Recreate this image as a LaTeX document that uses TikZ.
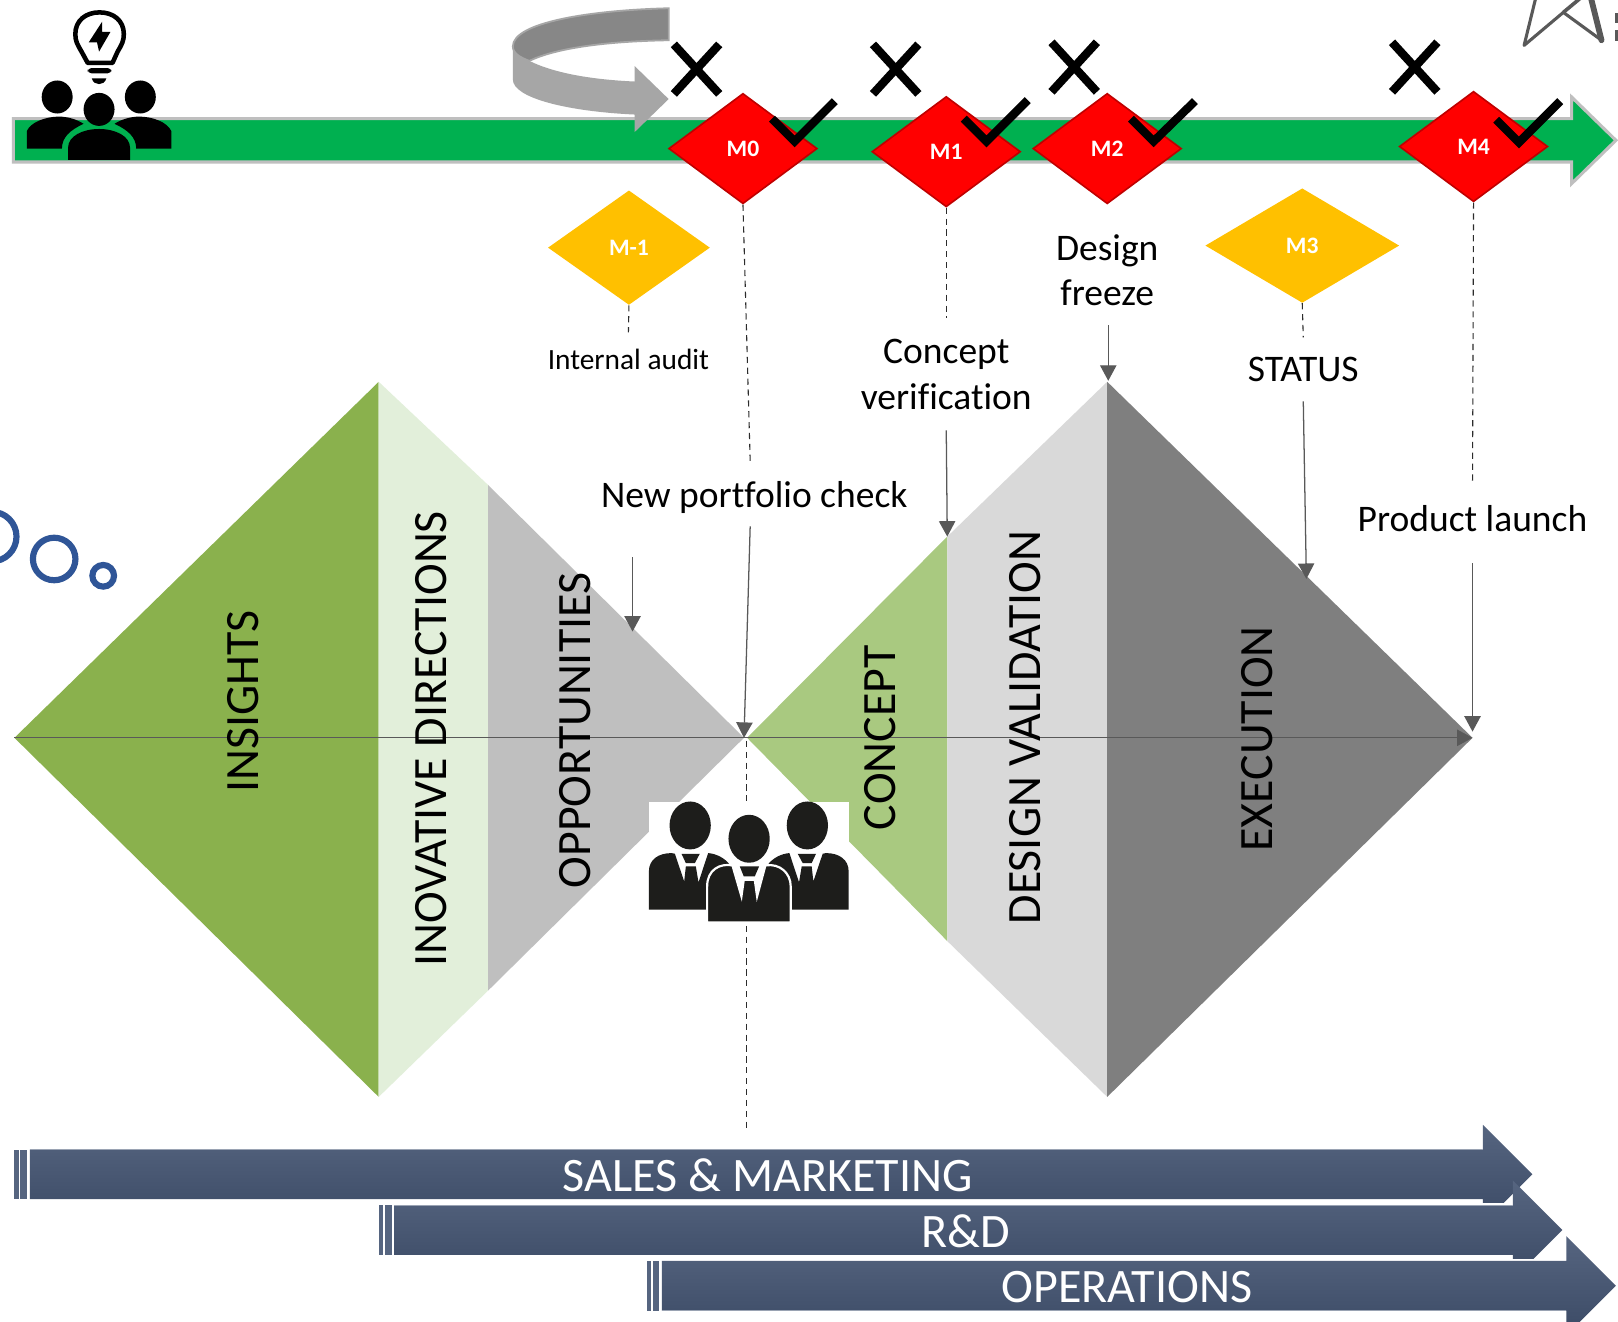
\documentclass[tikz,border=0pt]{standalone}
\usepackage{fontspec}
\setmainfont[Ligatures=NoCommon]{Carlito}
\usetikzlibrary{shapes.geometric,arrows.meta}
\definecolor{grn}{HTML}{00B050}
\definecolor{edgegray}{HTML}{BFBFBF}
\definecolor{redd}{HTML}{FF0000}
\definecolor{redb}{HTML}{C00000}
\definecolor{yel}{HTML}{FFC000}
\definecolor{ln}{HTML}{595959}
\definecolor{dgreen}{HTML}{8AB14D}
\definecolor{lgreen}{HTML}{E2EFDA}
\definecolor{mgreen}{HTML}{A9C980}
\definecolor{g1}{HTML}{BFBFBF}
\definecolor{g2}{HTML}{D9D9D9}
\definecolor{g3}{HTML}{7F7F7F}
\definecolor{curvedark}{HTML}{878787}
\definecolor{curvelight}{HTML}{A6A6A6}
\definecolor{blu}{HTML}{2F5597}
\definecolor{navt}{HTML}{566580}
\definecolor{navb}{HTML}{3B4A65}
\definecolor{ink}{HTML}{1D1D1B}
\newcommand{\fs}[1]{\fontsize{#1}{#1}\selectfont}
\newcommand{\backperson}{%
  \fill[ink] (147,630) -- (147,515) .. controls (147,480) and (175,460) .. (215,460) -- (225,462) -- (253,545) -- (258,500) -- (288,500) -- (296,548) -- (325,460) .. controls (350,462) and (375,475) .. (390,495) -- (320,630) -- cycle;
  \fill[ink] (245,462) -- (300,462) -- (285,490) -- (258,490) -- cycle;
  \fill[ink] (271,377) ellipse [x radius=62,y radius=72];
}
\tikzset{
  milestone/.style={diamond,aspect=1.3,fill=redd,draw=redb,line width=0.9pt,inner sep=0pt,text=white,font=\fs{13}\bfseries,minimum width=2.88cm,minimum height=2.14cm},
  gate/.style={diamond,aspect=1.3,fill=yel,inner sep=0pt,text=white,font=\fs{13}\bfseries,minimum height=2.22cm},
  caption/.style={text=black,font=\fs{20.7},align=center,inner sep=0pt},
  vertlabel/.style={rotate=90,text=black,font=\fs{26.4},inner sep=0pt},
  barlabel/.style={text=white,font=\fs{26.5},inner sep=0pt},
  dashline/.style={draw=ln!50!black,line width=0.6pt,dash pattern=on 3.4pt off 2.6pt},
  solidarrow/.style={draw=ln,line width=0.7pt,-{Triangle[width=9pt,length=8.5pt]}},
  crossmark/.style={draw=black,line width=4.6pt},
  tickmark/.style={draw=black,line width=4.6pt},
  bar/.style={top color=navt,bottom color=navb},
  barline/.style={draw=navt!60!white,line width=0.5pt},
  blurring/.style={draw=blu,line width=3.4pt},
}
\begin{document}
\begin{tikzpicture}[x=0.02cm,y=-0.02cm]
\path[use as bounding box] (0,0) rectangle (1568,1281);
\clip (0,0) rectangle (1568,1281);
\fill[white] (0,0) rectangle (1568,1281);

% big diamonds
\fill[dgreen] (14,715) -- (367,370) -- (367,1063) -- cycle;
\fill[lgreen] (367,370) -- (473,470) -- (473,960) -- (367,1063) -- cycle;
\fill[g1] (473,470) -- (721,715) -- (473,960) -- cycle;
\fill[mgreen] (724,715) -- (918,520) -- (918,912) -- cycle;
\fill[g2] (918,520) -- (1073,370) -- (1073,1063) -- (918,912) -- cycle;
\fill[g3] (1073,370) -- (1427,715) -- (1073,1063) -- cycle;

% circles
\draw[blurring] (-8,520) circle (24);
\draw[blurring] (52.5,541.7) circle (20.6);
\draw[blurring] (100,558) circle (10.5);

% star fragment
\draw[ln,line width=1.7pt,line join=round] (1489,-5) -- (1477,44) -- (1515,12) -- (1552,39);
\draw[ln,line width=2pt] (1515,12) -- (1533,-3);
\draw[ln,line width=3.2pt,line cap=round] (1552,39) -- (1541,-5);
\fill[ln] (1565,13) rectangle (1568,22);
\fill[ln] (1565,29) rectangle (1568,40);

% timeline arrow
\draw[draw=edgegray,fill=grn,line width=1.7pt] (13,115) -- (1523,115) -- (1523,94) -- (1566,136) -- (1523,178) -- (1523,157) -- (13,157) -- cycle;

% curved arrow
\fill[curvedark,draw=curvelight,line width=1pt] (648,8) .. controls (570,10) and (497,22) .. (497,45) .. controls (497,52) and (505,56) .. (513,59) .. controls (540,46) and (590,40) .. (648,39) -- cycle;
\fill[curvelight] (497,45) .. controls (497,52) and (505,56) .. (513,59) .. controls (535,70) and (570,77) .. (615,79) -- (615,64) -- (648,96) -- (615,128) -- (615,111) .. controls (550,108) and (497,95) .. (497,77) -- cycle;

% milestones
\node[gate,minimum width=3.14cm] (mm1) at (609.5,240) {M-1};
\node[gate,minimum width=3.76cm] (m3) at (1262,238) {M3};
\node[milestone] (m0) at (720,144) {M0};
\node[milestone] (m1) at (917,147) {M1};
\node[milestone] (m2) at (1073,144) {M2};
\node[milestone] (m4) at (1428,142) {M4};

% crosses
\foreach \cx/\cy in {675/67,868/67,1041/65,1371/65}{
  \draw[crossmark] (\cx-22,\cy-24) -- (\cx+22,\cy+24);
  \draw[crossmark] (\cx+22,\cy-24) -- (\cx-22,\cy+24);
}
% ticks
\draw[tickmark] (748,115) -- (770,137) -- (809,98);
\draw[tickmark] (934,115) -- (956,137) -- (996,97);
\draw[tickmark] (1096,115) -- (1118,137) -- (1158,98);
\draw[tickmark] (1450,116) -- (1472,138) -- (1512,98);

% captions
\node[caption,font=\fs{16.2}] (audit) at (609,348) {Internal audit};
\node[caption] (portfolio) at (731,482) {New portfolio check};
\node[caption] (verif) at (917,363) {Concept\\[4.5pt]verification};
\node[caption] (freeze) at (1073,262) {Design\\[4.5pt]freeze};
\node[caption] (status) at (1263,358) {STATUS};
\node[caption] (launch) at (1427,503) {Product launch};

% connector ends
\coordinate (c0a) at (727,447);
\coordinate (c0b) at (727,510);
\coordinate (hub) at (721,715);
\coordinate (hubd) at (723,718);
\coordinate (c0e) at (723,1095);
\coordinate (c1a) at (917,308);
\coordinate (c1b) at (917,417);
\coordinate (c1t) at (918,520);
\coordinate (c2b) at (1074,315);
\coordinate (c2t) at (1074,369);
\coordinate (c3a) at (1263,327);
\coordinate (c3b) at (1263,389);
\coordinate (c3t) at (1266,561);
\coordinate (c4a) at (1427,470);
\coordinate (c4b) at (1427,546);
\coordinate (c4t) at (1427,709);
\coordinate (cma) at (609,322);
\coordinate (cmb) at (613,540);
\coordinate (cmt) at (613,612);
\coordinate (axl) at (14,715);
\coordinate (axr) at (1427,715);

\draw[dashline] (m0.south) -- (c0a);
\draw[dashline] (m1.south) -- (c1a);
\draw[dashline] (m3.south) -- (c3a);
\draw[dashline] (m4.south) -- (c4a);
\draw[dashline] (mm1.south) -- (cma);
\draw[dashline] (hubd) -- (c0e);
\draw[solidarrow] (c0b) -- (hub);
\draw[solidarrow] (c1b) -- (c1t);
\draw[solidarrow] (c2b) -- (c2t);
\draw[solidarrow] (c3b) -- (c3t);
\draw[solidarrow] (c4b) -- (c4t);
\draw[solidarrow] (cmb) -- (cmt);
\draw[solidarrow] (axl) -- (axr);

% vertical labels
\node[vertlabel] (v1) at (236,680) {INSIGHTS};
\node[vertlabel] (v2) at (418,716) {INOVATIVE DIRECTIONS};
\node[vertlabel] (v3) at (557,708) {OPPORTUNITIES};
\node[vertlabel] (v4) at (853,715) {CONCEPT};
\node[vertlabel] (v5) at (993,705) {DESIGN VALIDATION};
\node[vertlabel] (v6) at (1218,716) {EXECUTION};

% team icon
\fill[white] (629,777) rectangle (823,894);
\begin{scope}[shift={(581.4,678.3)},x=0.00646cm,y=-0.00646cm]
  \backperson
  \begin{scope}[shift={(894,0)},xscale=-1]
    \backperson
  \end{scope}
  \fill[ink,draw=white,line width=1.2pt] (322,668) -- (322,560) .. controls (322,510) and (360,490) .. (398,497) -- (425,590) -- (432,540) -- (465,540) -- (472,590) -- (497,497) .. controls (540,490) and (573,520) .. (573,560) -- (573,668) -- cycle;
  \fill[ink] (420,500) -- (478,500) -- (465,530) -- (432,530) -- cycle;
  \fill[ink] (448,417) ellipse [x radius=62,y radius=72];
\end{scope}

% idea icon
\draw[black,line width=2.5pt,line join=round] (85,61) -- (109,61) -- (114,50) .. controls (118,43) and (120,40) .. (120,33) .. controls (120,20) and (110,12) .. (96.5,12) .. controls (83,12) and (73,20) .. (73,33) .. controls (73,40) and (75,43) .. (79,50) -- cycle;
\fill[black] (99,21) -- (86,41) -- (94,41) -- (96,50) -- (107,31) -- (99,31) -- cycle;
\fill[black,rounded corners=2pt] (85,66) rectangle (108,71);
\fill[black] (89,76) -- (103,76) .. controls (102,80) and (99,81.5) .. (96,81.5) .. controls (93,81.5) and (90,80) .. (89,76) -- cycle;
\fill[black] (55.4,94) ellipse [x radius=15,y radius=16];
\fill[black] (136,94) ellipse [x radius=15,y radius=16];
\fill[black] (96,106) ellipse [x radius=15,y radius=16];
\fill[black] (26,144) -- (26,127) .. controls (30,118) and (45,113) .. (57,113) .. controls (66,113) and (75,116) .. (81,120) .. controls (68,126) and (60,133) .. (60,144) -- cycle;
\fill[black] (166,144) -- (166,127) .. controls (162,118) and (147,113) .. (135,113) .. controls (126,113) and (117,116) .. (111,120) .. controls (124,126) and (132,133) .. (132,144) -- cycle;
\fill[black] (66,155) -- (66,143) .. controls (66,132) and (80,125) .. (96,125) .. controls (112,125) and (126,132) .. (126,143) -- (126,155) -- cycle;

% bottom bars
\newcommand{\stackbar}[6]{%
  \fill[navt] (#1,#5) rectangle (#2,#6);
  \fill[navt] (#3,#5) rectangle (#4,#6);
}
\stackbar{14}{18}{19}{26}{1114}{1162}
\shade[bar] (29,1114) -- (1437,1114) -- (1437,1090) -- (1485,1138) -- (1437,1186) -- (1437,1162) -- (29,1162) -- cycle;
\draw[barline] (29,1114) -- (1437,1114);
\stackbar{367}{371}{373}{380}{1168}{1216}
\fill[white] (382,1166) rectangle (1466,1168);
\shade[bar] (382,1168) -- (1466,1168) -- (1466,1144) -- (1514,1192) -- (1466,1240) -- (1466,1216) -- (382,1216) -- cycle;
\draw[barline] (382,1168) -- (1466,1168);
\stackbar{627}{631}{633}{639}{1222}{1270}
\fill[white] (641.5,1220) rectangle (1518,1222);
\shade[bar] (641.5,1222) -- (1518,1222) -- (1518,1198) -- (1566,1246) -- (1518,1294) -- (1518,1270) -- (641.5,1270) -- cycle;
\draw[barline] (641.5,1270) -- (1518,1270);
\node[barlabel] (sales) at (744,1139) {SALES \& MARKETING};
\node[barlabel] (rd) at (936,1193) {R\&D};
\node[barlabel] (ops) at (1092,1247) {OPERATIONS};
\end{tikzpicture}
\end{document}
